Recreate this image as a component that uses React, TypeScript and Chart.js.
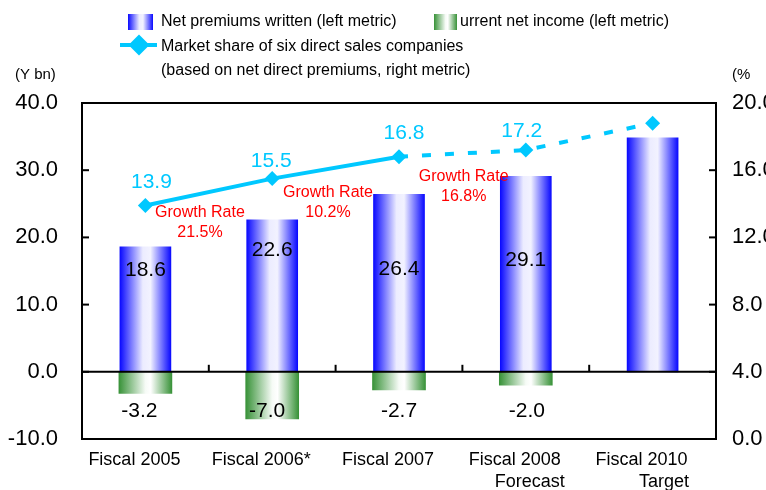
import React, { useEffect, useRef } from 'react';
import { Chart, registerables } from 'chart.js';

Chart.register(...registerables);

// ---------- data ----------
const categories: string[][] = [
  ['Fiscal 2005'],
  ['Fiscal 2006*'],
  ['Fiscal 2007'],
  ['Fiscal 2008', '      Forecast'],
  ['Fiscal 2010', '         Target'],
];
const netPremiums = [18.6, 22.6, 26.4, 29.1, 34.8];
const netIncome: (number | null)[] = [-3.2, -7.0, -2.7, -2.0, null];
const marketShare = [13.9, 15.5, 16.8, 17.2, 18.8];
const growthRates = ['21.5%', '10.2%', '16.8%'];

const leftMin = -10, leftMax = 40, leftStep = 10;
const rightMin = 0, rightMax = 20, rightStep = 4;

const legendPremiums = 'Net premiums written (left metric)';
const legendIncome = 'urrent net income (left metric)';
const legendShare1 = 'Market share of six direct sales companies';
const legendShare2 = '(based on net direct premiums, right metric)';
const leftUnit = '(Y bn)';
const rightUnit = '(%';

// ---------- label layout (not data) ----------
const premiumLabelAt = [15.1, 18.1, 15.3, 16.6]; // left-axis units
const incomeLabelDx = [-6, -5, 0, 1];
const incomeLabelDy = 39;
const shareLabelDx = [6, -1, 5, -4];
const shareLabelDy = [-23, -17, -24, -19];
const growthAnchorX = [0.43, 1.44, 2.51]; // category index units
const growthAnchorY = [23.7, 26.6, 29.0]; // left-axis units

const FONT = 'Liberation Sans, Arial, Helvetica, sans-serif';
const CYAN = '#00c8ff';
const BLUE_W = 51;
const GREEN_W = 53;

function blueStops(g: CanvasGradient) {
  g.addColorStop(0, '#0a0aff');
  g.addColorStop(0.45, '#ececff');
  g.addColorStop(0.6, '#f2f2ff');
  g.addColorStop(1, '#0a0aff');
  return g;
}
function greenStops(g: CanvasGradient) {
  g.addColorStop(0, '#389238');
  g.addColorStop(0.5, '#f6fbf6');
  g.addColorStop(0.6, '#ffffff');
  g.addColorStop(1, '#389238');
  return g;
}

function barGradient(kind: 'blue' | 'green', w: number) {
  return (c: any) => {
    const fallback = kind === 'blue' ? '#3030ff' : '#389238';
    const chart = c.chart;
    const xs = chart.scales && chart.scales.x;
    if (!xs || c.dataIndex == null) return fallback;
    const cx = xs.getPixelForValue(c.dataIndex);
    if (!Number.isFinite(cx)) return fallback;
    const g = chart.ctx.createLinearGradient(cx - w / 2, 0, cx + w / 2, 0);
    return kind === 'blue' ? blueStops(g) : greenStops(g);
  };
}

const decorPlugin = {
  id: 'decor',
  afterDatasetsDraw(chart: any) {
    const { ctx, chartArea: a, scales } = chart;
    const x = scales.x, y = scales.y, y1 = scales.y1;
    const ln = (x1: number, y1p: number, x2: number, y2: number) => {
      ctx.beginPath();
      ctx.moveTo(x1, y1p);
      ctx.lineTo(x2, y2);
      ctx.stroke();
    };
    ctx.save();
    ctx.strokeStyle = '#000';
    ctx.lineWidth = 2;
    ln(a.left, a.top, a.right, a.top);
    const y0 = y.getPixelForValue(0);
    ln(a.left, y0, a.right, y0);
    for (let v = leftMin + leftStep; v < leftMax; v += leftStep) {
      const py = y.getPixelForValue(v);
      ln(a.left, py, a.left + 7, py);
    }
    for (let v = rightMin + rightStep; v < rightMax; v += rightStep) {
      const py = y1.getPixelForValue(v);
      ln(a.right - 7, py, a.right, py);
    }
    for (let i = 0; i < categories.length - 1; i++) {
      const px = (x.getPixelForValue(i) + x.getPixelForValue(i + 1)) / 2;
      ln(px, y0, px, y0 - 7);
    }
    ctx.restore();
  },
  afterDraw(chart: any) {
    const { ctx, scales } = chart;
    const x = scales.x, y = scales.y, y1 = scales.y1;
    ctx.save();
    ctx.textBaseline = 'middle';

    // bar value labels
    ctx.fillStyle = '#000';
    ctx.font = `21px ${FONT}`;
    ctx.textAlign = 'center';
    premiumLabelAt.forEach((v, i) => {
      ctx.fillText(netPremiums[i].toFixed(1), x.getPixelForValue(i), y.getPixelForValue(v));
    });
    const y0 = y.getPixelForValue(0);
    netIncome.forEach((v, i) => {
      if (v == null) return;
      ctx.fillText(v.toFixed(1), x.getPixelForValue(i) + incomeLabelDx[i], y0 + incomeLabelDy);
    });

    // market share labels
    ctx.fillStyle = CYAN;
    shareLabelDx.forEach((dx, i) => {
      ctx.fillText(
        marketShare[i].toFixed(1),
        x.getPixelForValue(i) + dx,
        y1.getPixelForValue(marketShare[i]) + shareLabelDy[i]
      );
    });

    // growth rates
    ctx.fillStyle = '#ff0000';
    ctx.font = `16px ${FONT}`;
    growthRates.forEach((g, i) => {
      const px = x.getPixelForValue(growthAnchorX[i]);
      const py = y.getPixelForValue(growthAnchorY[i]);
      ctx.fillText('Growth Rate', px, py);
      ctx.fillText(g, px, py + 20);
    });

    // unit labels
    ctx.fillStyle = '#000';
    ctx.font = `15px ${FONT}`;
    ctx.textAlign = 'left';
    ctx.fillText(leftUnit, 15, 75);
    ctx.fillText(rightUnit, 732, 75);

    // legend
    let g = ctx.createLinearGradient(128, 0, 153, 0);
    ctx.fillStyle = blueStops(g);
    ctx.fillRect(128, 14, 25, 16);
    g = ctx.createLinearGradient(434, 0, 457, 0);
    ctx.fillStyle = greenStops(g);
    ctx.fillRect(434, 14, 23, 16);

    ctx.strokeStyle = CYAN;
    ctx.lineWidth = 4;
    ctx.beginPath();
    ctx.moveTo(120, 45);
    ctx.lineTo(157, 45);
    ctx.stroke();
    ctx.fillStyle = CYAN;
    ctx.beginPath();
    ctx.moveTo(139, 34.5);
    ctx.lineTo(149.5, 45);
    ctx.lineTo(139, 55.5);
    ctx.lineTo(128.5, 45);
    ctx.closePath();
    ctx.fill();

    ctx.fillStyle = '#000';
    ctx.font = `16px ${FONT}`;
    ctx.fillText(legendPremiums, 161, 21.5);
    ctx.fillText(legendIncome, 460, 21.5);
    ctx.fillText(legendShare1, 161, 47);
    ctx.fillText(legendShare2, 161, 71);
    ctx.restore();
  },
};

export default function App() {
  const ref = useRef<HTMLCanvasElement | null>(null);

  useEffect(() => {
    document.body.style.margin = '0';
    const canvas = ref.current;
    if (!canvas) return;
    Chart.defaults.font.family = FONT;
    Chart.defaults.color = '#000';

    const chart = new Chart(canvas, {
      type: 'bar',
      data: {
        labels: categories,
        datasets: [
          {
            type: 'line',
            label: 'Market share',
            data: marketShare,
            yAxisID: 'y1',
            borderColor: CYAN,
            backgroundColor: CYAN,
            borderWidth: 4,
            pointStyle: 'rectRot',
            pointRadius: 7.5,
            pointBorderWidth: 0,
            pointBackgroundColor: CYAN,
            fill: false,
            tension: 0,
            order: 0,
            clip: false,
            segment: {
              borderDash: (c: any) => (c.p0DataIndex >= 2 ? [9, 14] : undefined),
            },
          } as any,
          {
            label: 'Net premiums written',
            data: netPremiums,
            yAxisID: 'y',
            backgroundColor: barGradient('blue', BLUE_W),
            barThickness: BLUE_W,
            borderWidth: 0,
            order: 2,
          },
          {
            label: 'Current net income',
            data: netIncome,
            yAxisID: 'y',
            backgroundColor: barGradient('green', GREEN_W),
            barThickness: GREEN_W,
            borderWidth: 0,
            order: 1,
          },
        ],
      },
      options: {
        responsive: false,
        animation: false,
        events: [],
        layout: { padding: { top: 103, left: 0, right: 0, bottom: 0 } },
        plugins: {
          legend: { display: false },
          tooltip: { enabled: false },
          title: { display: false },
        },
        scales: {
          x: {
            stacked: true,
            grid: { display: false, drawTicks: false },
            border: { display: true, color: '#000', width: 2 },
            ticks: {
              font: { size: 18, lineHeight: 1.17 },
              color: '#000',
              padding: 11,
              labelOffset: -11,
              maxRotation: 0,
              autoSkip: false,
            },
            afterFit: (s: any) => {
              s.height = 51;
            },
          },
          y: {
            stacked: true,
            position: 'left',
            min: leftMin,
            max: leftMax,
            grid: { display: false, drawTicks: false },
            border: { display: true, color: '#000', width: 2 },
            ticks: {
              stepSize: leftStep,
              font: { size: 22 },
              color: '#000',
              padding: 24,
              callback: (v: any) => Number(v).toFixed(1),
            },
            afterFit: (s: any) => {
              s.width = 82;
            },
          },
          y1: {
            position: 'right',
            min: rightMin,
            max: rightMax,
            grid: { display: false, drawTicks: false },
            border: { display: true, color: '#000', width: 2 },
            ticks: {
              stepSize: rightStep,
              font: { size: 22 },
              color: '#000',
              padding: 16,
              callback: (v: any) => Number(v).toFixed(1),
            },
            afterFit: (s: any) => {
              s.width = 50;
            },
          },
        },
      } as any,
      plugins: [decorPlugin],
    });
    chart.update();

    return () => {
      chart.destroy();
    };
  }, []);

  return (
    <div style={{ width: 766, height: 490 }}>
      <canvas ref={ref} width={766} height={490} style={{ display: 'block' }} />
    </div>
  );
}
